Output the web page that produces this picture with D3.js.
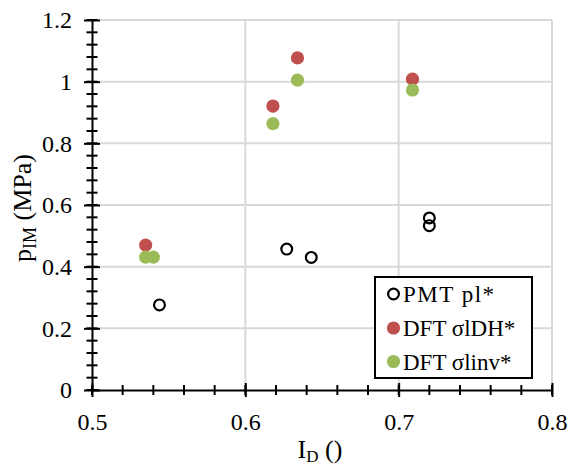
<!DOCTYPE html>
<html><head><meta charset="utf-8">
<script src="https://cdn.jsdelivr.net/npm/d3@7"></script>
<style>body{margin:0;background:#fff}svg{display:block}</style>
</head><body>
<script>
const xTicks = [0.5, 0.6, 0.7, 0.8];
const yTicks = [0, 0.2, 0.4, 0.6, 0.8, 1, 1.2];
const pmtX = [0.544, 0.627, 0.643, 0.720, 0.720];
const pmtY = [0.276, 0.457, 0.430, 0.558, 0.533];
const dhX = [0.535, 0.618, 0.634, 0.709];
const dhY = [0.470, 0.921, 1.077, 1.008];
const invX = [0.535, 0.540, 0.618, 0.634, 0.709];
const invY = [0.431, 0.431, 0.864, 1.005, 0.973];
const seriesNames = ["PMT pl*", "DFT σlDH*", "DFT σlinv*"];

const FONT = "Liberation Serif";
const FS = 24;
const W = 569, H = 470;
const svg = d3.select("body").append("svg").attr("width", W).attr("height", H);
const x = d3.scaleLinear().domain([0.5, 0.8]).range([92, 552]);
const y = d3.scaleLinear().domain([0, 1.2]).range([390, 20]);

// gridlines
svg.append("g").selectAll("line").data(yTicks.slice(1)).join("line")
  .attr("x1", x(0.5)).attr("x2", x(0.8)).attr("y1", d => y(d)).attr("y2", d => y(d))
  .attr("stroke", "#d9d9d9").attr("stroke-width", 2);
svg.append("g").selectAll("line").data(xTicks.slice(1)).join("line")
  .attr("y1", y(0)).attr("y2", y(1.2)).attr("x1", d => x(d)).attr("x2", d => x(d))
  .attr("stroke", "#d9d9d9").attr("stroke-width", 2);

// minor ticks
const xMinor = d3.range(0, 16).map(i => 0.5 + i * 0.02);
const yMinor = d3.range(0, 31).map(i => i * 0.04);
svg.append("g").selectAll("line").data(xMinor).join("line")
  .attr("x1", d => x(d)).attr("x2", d => x(d)).attr("y1", y(0) - 5).attr("y2", y(0) + 5)
  .attr("stroke", "#000").attr("stroke-width", 2);
svg.append("g").selectAll("line").data(yMinor).join("line")
  .attr("y1", d => y(d)).attr("y2", d => y(d)).attr("x1", x(0.5) - 5.5).attr("x2", x(0.5) + 5.5)
  .attr("stroke", "#000").attr("stroke-width", 2);

// axes
const xAxis = svg.append("g").attr("transform", `translate(0,${y(0)})`)
  .call(d3.axisBottom(x).tickValues(xTicks).tickFormat(d3.format("")).tickSize(0).tickPadding(23));
xAxis.attr("font-family", FONT).attr("font-size", FS);
xAxis.select(".domain").attr("stroke", "#000").attr("stroke-width", 2);
xAxis.selectAll("text").attr("font-family", FONT).attr("font-size", FS).attr("fill", "#000");
xAxis.selectAll(".tick").append("line").attr("y1", -7).attr("y2", 7).attr("stroke", "#000").attr("stroke-width", 2);

const yAxis = svg.append("g").attr("transform", `translate(${x(0.5)},0)`)
  .call(d3.axisLeft(y).tickValues(yTicks).tickFormat(d3.format("")).tickSize(0).tickPadding(20));
yAxis.attr("font-family", FONT).attr("font-size", FS);
yAxis.select(".domain").attr("stroke", "#000").attr("stroke-width", 2);
yAxis.selectAll("text").attr("font-family", FONT).attr("font-size", FS).attr("fill", "#000");
yAxis.selectAll(".tick").append("line").attr("x1", -8).attr("x2", 8).attr("stroke", "#000").attr("stroke-width", 2);

// titles
const xt = svg.append("text").attr("x", 320).attr("y", 458).attr("text-anchor", "middle")
  .attr("font-family", FONT).attr("font-size", 26);
xt.append("tspan").text("I");
xt.append("tspan").text("D").attr("font-size", 17).attr("dy", 4);
xt.append("tspan").text(" ()").attr("dy", -4);

const yt = svg.append("text").attr("transform", "translate(31,208) rotate(-90)").attr("text-anchor", "middle")
  .attr("font-family", FONT).attr("font-size", 26);
yt.append("tspan").text("p");
yt.append("tspan").text("IM").attr("font-size", 18).attr("dy", 5);
yt.append("tspan").text(" (MPa)").attr("dy", -5);

// points
const R = 6.6;
svg.append("g").selectAll("circle").data(dhX.map((v, i) => [v, dhY[i]])).join("circle")
  .attr("cx", d => x(d[0])).attr("cy", d => y(d[1])).attr("r", R).attr("fill", "#c0504d");
svg.append("g").selectAll("circle").data(invX.map((v, i) => [v, invY[i]])).join("circle")
  .attr("cx", d => x(d[0])).attr("cy", d => y(d[1])).attr("r", R).attr("fill", "#9bbb59");
svg.append("g").selectAll("circle").data(pmtX.map((v, i) => [v, pmtY[i]])).join("circle")
  .attr("cx", d => x(d[0])).attr("cy", d => y(d[1])).attr("r", 5.4).attr("fill", "none")
  .attr("stroke", "#000").attr("stroke-width", 2.2);

// legend
const lg = svg.append("g");
lg.append("rect").attr("x", 375).attr("y", 277).attr("width", 157).attr("height", 101)
  .attr("fill", "#fff").attr("stroke", "#000").attr("stroke-width", 2);
const ly = [294, 328, 361.5];
seriesNames.forEach((name, i) => {
  if (i === 0) lg.append("circle").attr("cx", 393.5).attr("cy", ly[i]).attr("r", 5.4).attr("fill", "none").attr("stroke", "#000").attr("stroke-width", 2.2);
  else lg.append("circle").attr("cx", 393.5).attr("cy", ly[i]).attr("r", R).attr("fill", i === 1 ? "#c0504d" : "#9bbb59");
  lg.append("text").attr("x", 403).attr("y", ly[i] + 8).attr("font-family", FONT).attr("font-size", 23)
    .attr("letter-spacing", i === 0 ? 1.5 : 0).text(name);
});
</script>
</body></html>
